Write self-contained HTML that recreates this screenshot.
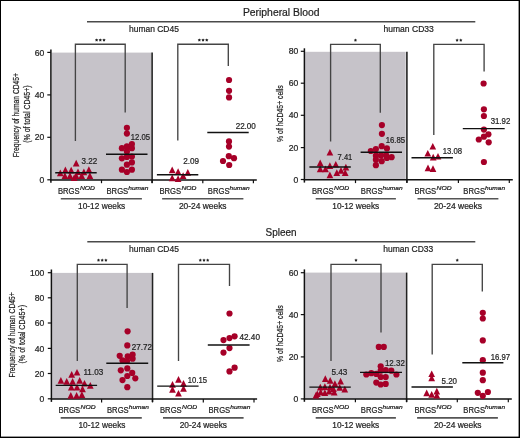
<!DOCTYPE html>
<html><head><meta charset="utf-8"><style>
html,body{margin:0;padding:0;background:#fff;}
body{width:520px;height:438px;overflow:hidden;}
svg{display:block;font-family:"Liberation Sans", sans-serif;will-change:transform;} text{stroke:#222;stroke-width:0.22px;paint-order:stroke;}
</style></head><body>
<svg width="520" height="438" viewBox="0 0 520 438">
<rect x="0" y="0" width="520" height="438" fill="#fff"/>
<line x1="87.0" y1="21.7" x2="475.3" y2="21.7" stroke="#4a4a4a" stroke-width="1.5"/>
<text x="242.9" y="15.8" font-size="10.6" textLength="76.7" lengthAdjust="spacingAndGlyphs" fill="#1f1f1f">Peripheral Blood</text>
<text x="129.0" y="32.1" font-size="9.0" textLength="49.9" lengthAdjust="spacingAndGlyphs" fill="#1f1f1f">human CD45</text>
<text x="383.5" y="32.1" font-size="9.0" textLength="50.3" lengthAdjust="spacingAndGlyphs" fill="#1f1f1f">human CD33</text>
<line x1="87.3" y1="241.7" x2="475.3" y2="241.7" stroke="#4a4a4a" stroke-width="1.5"/>
<text x="265.5" y="236.2" font-size="10.6" textLength="31" lengthAdjust="spacingAndGlyphs" fill="#1f1f1f">Spleen</text>
<text x="129.0" y="252.4" font-size="9.0" textLength="49.9" lengthAdjust="spacingAndGlyphs" fill="#1f1f1f">human CD45</text>
<text x="383.3" y="252.4" font-size="9.0" textLength="50.0" lengthAdjust="spacingAndGlyphs" fill="#1f1f1f">human CD33</text>
<rect x="51.6" y="52.6" width="99.6" height="127.30000000000001" fill="#c6c3c9"/>
<line x1="152.1" y1="52.6" x2="152.1" y2="182.9" stroke="#222" stroke-width="1.6"/>
<line x1="50.9" y1="49.5" x2="50.9" y2="182.70000000000002" stroke="#111" stroke-width="1.5"/>
<line x1="47.3" y1="52.4" x2="50.9" y2="52.4" stroke="#111" stroke-width="1.2"/>
<text x="44.2" y="55.5" font-size="8.6" text-anchor="end" fill="#1f1f1f">60</text>
<line x1="47.3" y1="94.9" x2="50.9" y2="94.9" stroke="#111" stroke-width="1.2"/>
<text x="44.2" y="98.0" font-size="8.6" text-anchor="end" fill="#1f1f1f">40</text>
<line x1="47.3" y1="137.3" x2="50.9" y2="137.3" stroke="#111" stroke-width="1.2"/>
<text x="44.2" y="140.4" font-size="8.6" text-anchor="end" fill="#1f1f1f">20</text>
<line x1="47.3" y1="179.8" x2="50.9" y2="179.8" stroke="#111" stroke-width="1.2"/>
<text x="44.2" y="182.9" font-size="8.6" text-anchor="end" fill="#1f1f1f">0</text>
<line x1="50.199999999999996" y1="179.9" x2="256.8" y2="179.9" stroke="#111" stroke-width="1.5"/>
<line x1="101.5" y1="179.9" x2="101.5" y2="183.20000000000002" stroke="#111" stroke-width="1.2"/>
<line x1="152.1" y1="179.9" x2="152.1" y2="183.20000000000002" stroke="#111" stroke-width="1.2"/>
<line x1="202.8" y1="179.9" x2="202.8" y2="183.20000000000002" stroke="#111" stroke-width="1.2"/>
<line x1="253.4" y1="179.9" x2="253.4" y2="183.20000000000002" stroke="#111" stroke-width="1.2"/>
<path d="M75.4 141.0 L75.4 44.2 L125.2 44.2 L125.2 112.5" fill="none" stroke="#444" stroke-width="1.35"/>
<polygon points="96.60,38.40 97.16,39.33 98.22,39.57 97.50,40.39 97.60,41.48 96.60,41.05 95.60,41.48 95.70,40.39 94.98,39.57 96.04,39.33" fill="#222"/>
<polygon points="100.30,38.40 100.86,39.33 101.92,39.57 101.20,40.39 101.30,41.48 100.30,41.05 99.30,41.48 99.40,40.39 98.68,39.57 99.74,39.33" fill="#222"/>
<polygon points="104.00,38.40 104.56,39.33 105.62,39.57 104.90,40.39 105.00,41.48 104.00,41.05 103.00,41.48 103.10,40.39 102.38,39.57 103.44,39.33" fill="#222"/>
<path d="M177.8 140.6 L177.8 44.2 L228.3 44.2 L228.3 65.9" fill="none" stroke="#444" stroke-width="1.35"/>
<polygon points="199.35,38.40 199.91,39.33 200.97,39.57 200.25,40.39 200.35,41.48 199.35,41.05 198.35,41.48 198.45,40.39 197.73,39.57 198.79,39.33" fill="#222"/>
<polygon points="203.05,38.40 203.61,39.33 204.67,39.57 203.95,40.39 204.05,41.48 203.05,41.05 202.05,41.48 202.15,40.39 201.43,39.57 202.49,39.33" fill="#222"/>
<polygon points="206.75,38.40 207.31,39.33 208.37,39.57 207.65,40.39 207.75,41.48 206.75,41.05 205.75,41.48 205.85,40.39 205.13,39.57 206.19,39.33" fill="#222"/>
<path d="M76.20 159.72 L79.55 166.38 L72.85 166.38 Z" fill="#a60028"/>
<path d="M65.40 166.52 L68.75 173.18 L62.05 173.18 Z" fill="#a60028"/>
<path d="M71.20 166.72 L74.55 173.38 L67.85 173.38 Z" fill="#a60028"/>
<path d="M60.30 169.52 L63.65 176.18 L56.95 176.18 Z" fill="#a60028"/>
<path d="M78.00 168.42 L81.35 175.08 L74.65 175.08 Z" fill="#a60028"/>
<path d="M83.90 168.52 L87.25 175.18 L80.55 175.18 Z" fill="#a60028"/>
<path d="M88.90 166.22 L92.25 172.88 L85.55 172.88 Z" fill="#a60028"/>
<path d="M64.90 172.22 L68.25 178.88 L61.55 178.88 Z" fill="#a60028"/>
<path d="M70.00 172.22 L73.35 178.88 L66.65 178.88 Z" fill="#a60028"/>
<path d="M76.20 172.42 L79.55 179.08 L72.85 179.08 Z" fill="#a60028"/>
<path d="M81.70 172.22 L85.05 178.88 L78.35 178.88 Z" fill="#a60028"/>
<path d="M89.90 172.22 L93.25 178.88 L86.55 178.88 Z" fill="#a60028"/>
<path d="M74.20 174.32 L77.55 180.98 L70.85 180.98 Z" fill="#a60028"/>
<circle cx="126.9" cy="127.8" r="3.1" fill="#a60028"/>
<circle cx="126.9" cy="133.6" r="3.1" fill="#a60028"/>
<circle cx="131.9" cy="144.1" r="3.1" fill="#a60028"/>
<circle cx="126.9" cy="146.4" r="3.1" fill="#a60028"/>
<circle cx="121.9" cy="148.2" r="3.1" fill="#a60028"/>
<circle cx="131.9" cy="148.2" r="3.1" fill="#a60028"/>
<circle cx="126.9" cy="151.4" r="3.1" fill="#a60028"/>
<circle cx="121.9" cy="158.3" r="3.1" fill="#a60028"/>
<circle cx="126.9" cy="156.9" r="3.1" fill="#a60028"/>
<circle cx="131.9" cy="156.5" r="3.1" fill="#a60028"/>
<circle cx="131.9" cy="162.4" r="3.1" fill="#a60028"/>
<circle cx="126.9" cy="164.7" r="3.1" fill="#a60028"/>
<circle cx="121.9" cy="169.7" r="3.1" fill="#a60028"/>
<circle cx="126.9" cy="172" r="3.1" fill="#a60028"/>
<circle cx="131.9" cy="169.7" r="3.1" fill="#a60028"/>
<path d="M172.20 166.52 L175.55 173.18 L168.85 173.18 Z" fill="#a60028"/>
<path d="M178.10 168.32 L181.45 174.98 L174.75 174.98 Z" fill="#a60028"/>
<path d="M183.10 172.22 L186.45 178.88 L179.75 178.88 Z" fill="#a60028"/>
<path d="M187.80 169.12 L191.15 175.78 L184.45 175.78 Z" fill="#a60028"/>
<path d="M172.20 174.52 L175.55 181.18 L168.85 181.18 Z" fill="#a60028"/>
<path d="M178.10 175.32 L181.45 181.98 L174.75 181.98 Z" fill="#a60028"/>
<circle cx="229.05" cy="80.0" r="3.1" fill="#a60028"/>
<circle cx="229.05" cy="90.8" r="3.1" fill="#a60028"/>
<circle cx="229.05" cy="97.4" r="3.1" fill="#a60028"/>
<circle cx="229" cy="141.4" r="3.1" fill="#a60028"/>
<circle cx="229" cy="146.6" r="3.1" fill="#a60028"/>
<circle cx="228.8" cy="156.2" r="3.1" fill="#a60028"/>
<circle cx="234" cy="158.2" r="3.1" fill="#a60028"/>
<circle cx="223" cy="161" r="3.1" fill="#a60028"/>
<circle cx="229.2" cy="165" r="3.1" fill="#a60028"/>
<line x1="55.2" y1="172.8" x2="96.7" y2="172.8" stroke="#111" stroke-width="1.4"/>
<text x="81.55" y="163.8" font-size="8.3" textLength="15.7" lengthAdjust="spacingAndGlyphs" fill="#1f1f1f">3.22</text>
<line x1="106" y1="154.3" x2="147.5" y2="154.3" stroke="#111" stroke-width="1.4"/>
<text x="130.85" y="139.9" font-size="8.3" textLength="19.2" lengthAdjust="spacingAndGlyphs" fill="#1f1f1f">12.05</text>
<line x1="156.9" y1="174.7" x2="198.3" y2="174.7" stroke="#111" stroke-width="1.4"/>
<text x="183.15" y="163.8" font-size="8.3" textLength="15.9" lengthAdjust="spacingAndGlyphs" fill="#1f1f1f">2.09</text>
<line x1="207.3" y1="132.5" x2="248.7" y2="132.5" stroke="#111" stroke-width="1.4"/>
<text x="235.65" y="129.4" font-size="8.3" textLength="20.2" lengthAdjust="spacingAndGlyphs" fill="#1f1f1f">22.00</text>
<text x="57.9" y="193.5" font-size="8.8" textLength="21.7" lengthAdjust="spacingAndGlyphs" fill="#1f1f1f">BRGS</text>
<text x="80.0" y="189.6" font-size="5.6" textLength="15" lengthAdjust="spacingAndGlyphs" font-style="italic" fill="#1f1f1f">NOD</text>
<text x="106.5" y="193.5" font-size="8.8" textLength="21.7" lengthAdjust="spacingAndGlyphs" fill="#1f1f1f">BRGS</text>
<text x="128.3" y="189.6" font-size="5.6" textLength="20" lengthAdjust="spacingAndGlyphs" font-style="italic" fill="#1f1f1f">human</text>
<text x="159.4" y="193.5" font-size="8.8" textLength="21.7" lengthAdjust="spacingAndGlyphs" fill="#1f1f1f">BRGS</text>
<text x="181.5" y="189.6" font-size="5.6" textLength="15" lengthAdjust="spacingAndGlyphs" font-style="italic" fill="#1f1f1f">NOD</text>
<text x="207.8" y="193.5" font-size="8.8" textLength="21.7" lengthAdjust="spacingAndGlyphs" fill="#1f1f1f">BRGS</text>
<text x="229.60000000000002" y="189.6" font-size="5.6" textLength="20" lengthAdjust="spacingAndGlyphs" font-style="italic" fill="#1f1f1f">human</text>
<line x1="60.8" y1="198.8" x2="141.9" y2="198.8" stroke="#555" stroke-width="1.6"/>
<text x="78.1" y="209.20000000000002" font-size="8.8" textLength="47.1" lengthAdjust="spacingAndGlyphs" fill="#1f1f1f">10-12 weeks</text>
<line x1="162.1" y1="198.8" x2="243.4" y2="198.8" stroke="#555" stroke-width="1.6"/>
<text x="178.9" y="209.20000000000002" font-size="8.8" textLength="47.7" lengthAdjust="spacingAndGlyphs" fill="#1f1f1f">20-24 weeks</text>
<text transform="translate(19.3,157.3) rotate(-90)" font-size="9.4" textLength="84.2" lengthAdjust="spacingAndGlyphs" fill="#1f1f1f">Frequency of human CD45+</text>
<text transform="translate(29.6,142.8) rotate(-90)" font-size="9.4" textLength="57.4" lengthAdjust="spacingAndGlyphs" fill="#1f1f1f">(% of total CD45+)</text>
<rect x="305.1" y="51.8" width="100.59999999999997" height="128.0" fill="#c6c3c9"/>
<line x1="406.9" y1="51.8" x2="406.9" y2="182.8" stroke="#222" stroke-width="1.6"/>
<line x1="304.4" y1="48.3" x2="304.4" y2="182.60000000000002" stroke="#111" stroke-width="1.5"/>
<line x1="300.79999999999995" y1="51.3" x2="304.4" y2="51.3" stroke="#111" stroke-width="1.2"/>
<text x="298.2" y="54.4" font-size="8.6" text-anchor="end" fill="#1f1f1f">80</text>
<line x1="300.79999999999995" y1="83.2" x2="304.4" y2="83.2" stroke="#111" stroke-width="1.2"/>
<text x="298.2" y="86.3" font-size="8.6" text-anchor="end" fill="#1f1f1f">60</text>
<line x1="300.79999999999995" y1="115.3" x2="304.4" y2="115.3" stroke="#111" stroke-width="1.2"/>
<text x="298.2" y="118.39999999999999" font-size="8.6" text-anchor="end" fill="#1f1f1f">40</text>
<line x1="300.79999999999995" y1="147.6" x2="304.4" y2="147.6" stroke="#111" stroke-width="1.2"/>
<text x="298.2" y="150.7" font-size="8.6" text-anchor="end" fill="#1f1f1f">20</text>
<line x1="300.79999999999995" y1="179.5" x2="304.4" y2="179.5" stroke="#111" stroke-width="1.2"/>
<text x="298.2" y="182.6" font-size="8.6" text-anchor="end" fill="#1f1f1f">0</text>
<line x1="303.7" y1="179.8" x2="512.8" y2="179.8" stroke="#111" stroke-width="1.5"/>
<line x1="355.5" y1="179.8" x2="355.5" y2="183.10000000000002" stroke="#111" stroke-width="1.2"/>
<line x1="406.9" y1="179.8" x2="406.9" y2="183.10000000000002" stroke="#111" stroke-width="1.2"/>
<line x1="458.4" y1="179.8" x2="458.4" y2="183.10000000000002" stroke="#111" stroke-width="1.2"/>
<line x1="509.3" y1="179.8" x2="509.3" y2="183.10000000000002" stroke="#111" stroke-width="1.2"/>
<path d="M330.6 141.4 L330.6 44.3 L380.3 44.3 L380.3 112.8" fill="none" stroke="#444" stroke-width="1.35"/>
<polygon points="355.45,38.50 356.01,39.43 357.07,39.67 356.35,40.49 356.45,41.58 355.45,41.15 354.45,41.58 354.55,40.49 353.83,39.67 354.89,39.43" fill="#222"/>
<path d="M433.8 135.1 L433.8 44.3 L484.1 44.3 L484.1 71.4" fill="none" stroke="#444" stroke-width="1.35"/>
<polygon points="457.10,38.50 457.66,39.43 458.72,39.67 458.00,40.49 458.10,41.58 457.10,41.15 456.10,41.58 456.20,40.49 455.48,39.67 456.54,39.43" fill="#222"/>
<polygon points="460.80,38.50 461.36,39.43 462.42,39.67 461.70,40.49 461.80,41.58 460.80,41.15 459.80,41.58 459.90,40.49 459.18,39.67 460.24,39.43" fill="#222"/>
<path d="M329.90 148.92 L333.25 155.58 L326.55 155.58 Z" fill="#a60028"/>
<path d="M320.20 159.52 L323.55 166.18 L316.85 166.18 Z" fill="#a60028"/>
<path d="M329.90 162.32 L333.25 168.98 L326.55 168.98 Z" fill="#a60028"/>
<path d="M335.80 160.92 L339.15 167.58 L332.45 167.58 Z" fill="#a60028"/>
<path d="M345.90 163.72 L349.25 170.38 L342.55 170.38 Z" fill="#a60028"/>
<path d="M320.20 165.52 L323.55 172.18 L316.85 172.18 Z" fill="#a60028"/>
<path d="M325.50 165.52 L328.85 172.18 L322.15 172.18 Z" fill="#a60028"/>
<path d="M341.00 167.02 L344.35 173.68 L337.65 173.68 Z" fill="#a60028"/>
<path d="M329.90 171.62 L333.25 178.28 L326.55 178.28 Z" fill="#a60028"/>
<path d="M336.80 169.32 L340.15 175.98 L333.45 175.98 Z" fill="#a60028"/>
<path d="M345.20 169.32 L348.55 175.98 L341.85 175.98 Z" fill="#a60028"/>
<circle cx="381.9" cy="125.1" r="3.1" fill="#a60028"/>
<circle cx="381.9" cy="133.8" r="3.1" fill="#a60028"/>
<circle cx="381.7" cy="146.2" r="3.1" fill="#a60028"/>
<circle cx="386.9" cy="148.4" r="3.1" fill="#a60028"/>
<circle cx="375.9" cy="149.1" r="3.1" fill="#a60028"/>
<circle cx="370.8" cy="151" r="3.1" fill="#a60028"/>
<circle cx="375.9" cy="155.7" r="3.1" fill="#a60028"/>
<circle cx="381" cy="155.4" r="3.1" fill="#a60028"/>
<circle cx="386.1" cy="155" r="3.1" fill="#a60028"/>
<circle cx="386.9" cy="157.9" r="3.1" fill="#a60028"/>
<circle cx="391.6" cy="157.2" r="3.1" fill="#a60028"/>
<circle cx="375.9" cy="159.7" r="3.1" fill="#a60028"/>
<circle cx="381.7" cy="161.2" r="3.1" fill="#a60028"/>
<circle cx="375.9" cy="165.2" r="3.1" fill="#a60028"/>
<path d="M432.80 142.92 L436.15 149.58 L429.45 149.58 Z" fill="#a60028"/>
<path d="M427.80 149.92 L431.15 156.58 L424.45 156.58 Z" fill="#a60028"/>
<path d="M433.20 153.72 L436.55 160.38 L429.85 160.38 Z" fill="#a60028"/>
<path d="M438.00 152.92 L441.35 159.58 L434.65 159.58 Z" fill="#a60028"/>
<path d="M428.00 164.52 L431.35 171.18 L424.65 171.18 Z" fill="#a60028"/>
<path d="M433.00 165.32 L436.35 171.98 L429.65 171.98 Z" fill="#a60028"/>
<circle cx="483.6" cy="83.5" r="3.1" fill="#a60028"/>
<circle cx="483.9" cy="109.3" r="3.1" fill="#a60028"/>
<circle cx="483.9" cy="116" r="3.1" fill="#a60028"/>
<circle cx="483.9" cy="129.6" r="3.1" fill="#a60028"/>
<circle cx="488.4" cy="134.3" r="3.1" fill="#a60028"/>
<circle cx="483.9" cy="136.7" r="3.1" fill="#a60028"/>
<circle cx="478.8" cy="139.5" r="3.1" fill="#a60028"/>
<circle cx="488.7" cy="142.3" r="3.1" fill="#a60028"/>
<circle cx="483.9" cy="162" r="3.1" fill="#a60028"/>
<line x1="309.4" y1="167.0" x2="350.8" y2="167.0" stroke="#111" stroke-width="1.4"/>
<text x="337.55" y="159.9" font-size="8.3" textLength="14.8" lengthAdjust="spacingAndGlyphs" fill="#1f1f1f">7.41</text>
<line x1="360.6" y1="152.2" x2="402" y2="152.2" stroke="#111" stroke-width="1.4"/>
<text x="385.65" y="142.8" font-size="8.3" textLength="19.4" lengthAdjust="spacingAndGlyphs" fill="#1f1f1f">16.85</text>
<line x1="411.5" y1="157.8" x2="452.9" y2="157.8" stroke="#111" stroke-width="1.4"/>
<text x="442.65" y="153.7" font-size="8.3" textLength="19.4" lengthAdjust="spacingAndGlyphs" fill="#1f1f1f">13.08</text>
<line x1="462.8" y1="128.6" x2="504.7" y2="128.6" stroke="#111" stroke-width="1.4"/>
<text x="490.65" y="123.7" font-size="8.3" textLength="19.6" lengthAdjust="spacingAndGlyphs" fill="#1f1f1f">31.92</text>
<text x="312" y="193.5" font-size="8.8" textLength="21.7" lengthAdjust="spacingAndGlyphs" fill="#1f1f1f">BRGS</text>
<text x="334.1" y="189.6" font-size="5.6" textLength="15" lengthAdjust="spacingAndGlyphs" font-style="italic" fill="#1f1f1f">NOD</text>
<text x="360.8" y="193.5" font-size="8.8" textLength="21.7" lengthAdjust="spacingAndGlyphs" fill="#1f1f1f">BRGS</text>
<text x="382.6" y="189.6" font-size="5.6" textLength="20" lengthAdjust="spacingAndGlyphs" font-style="italic" fill="#1f1f1f">human</text>
<text x="414.5" y="193.5" font-size="8.8" textLength="21.7" lengthAdjust="spacingAndGlyphs" fill="#1f1f1f">BRGS</text>
<text x="436.6" y="189.6" font-size="5.6" textLength="15" lengthAdjust="spacingAndGlyphs" font-style="italic" fill="#1f1f1f">NOD</text>
<text x="463.3" y="193.5" font-size="8.8" textLength="21.7" lengthAdjust="spacingAndGlyphs" fill="#1f1f1f">BRGS</text>
<text x="485.1" y="189.6" font-size="5.6" textLength="20" lengthAdjust="spacingAndGlyphs" font-style="italic" fill="#1f1f1f">human</text>
<line x1="315.7" y1="198.7" x2="395.9" y2="198.7" stroke="#555" stroke-width="1.6"/>
<text x="332.3" y="209.1" font-size="8.8" textLength="46.9" lengthAdjust="spacingAndGlyphs" fill="#1f1f1f">10-12 weeks</text>
<line x1="417.5" y1="198.7" x2="498.4" y2="198.7" stroke="#555" stroke-width="1.6"/>
<text x="433.9" y="209.1" font-size="8.8" textLength="48.2" lengthAdjust="spacingAndGlyphs" fill="#1f1f1f">20-24 weeks</text>
<text transform="translate(283.2,141.9) rotate(-90)" font-size="8.7" textLength="56.7" lengthAdjust="spacingAndGlyphs" fill="#1f1f1f">% of hCD45+ cells</text>
<rect x="52.1" y="272.9" width="99.6" height="126.20000000000005" fill="#c6c3c9"/>
<line x1="152.5" y1="272.9" x2="152.5" y2="402.1" stroke="#222" stroke-width="1.6"/>
<line x1="51.4" y1="269.5" x2="51.4" y2="401.90000000000003" stroke="#111" stroke-width="1.5"/>
<line x1="47.8" y1="272.7" x2="51.4" y2="272.7" stroke="#111" stroke-width="1.2"/>
<text x="44.4" y="275.8" font-size="8.6" text-anchor="end" fill="#1f1f1f">100</text>
<line x1="47.8" y1="297.8" x2="51.4" y2="297.8" stroke="#111" stroke-width="1.2"/>
<text x="44.4" y="300.90000000000003" font-size="8.6" text-anchor="end" fill="#1f1f1f">80</text>
<line x1="47.8" y1="323" x2="51.4" y2="323" stroke="#111" stroke-width="1.2"/>
<text x="44.4" y="326.1" font-size="8.6" text-anchor="end" fill="#1f1f1f">60</text>
<line x1="47.8" y1="348.4" x2="51.4" y2="348.4" stroke="#111" stroke-width="1.2"/>
<text x="44.4" y="351.5" font-size="8.6" text-anchor="end" fill="#1f1f1f">40</text>
<line x1="47.8" y1="373.5" x2="51.4" y2="373.5" stroke="#111" stroke-width="1.2"/>
<text x="44.4" y="376.6" font-size="8.6" text-anchor="end" fill="#1f1f1f">20</text>
<line x1="47.8" y1="398.8" x2="51.4" y2="398.8" stroke="#111" stroke-width="1.2"/>
<text x="44.4" y="401.90000000000003" font-size="8.6" text-anchor="end" fill="#1f1f1f">0</text>
<line x1="50.699999999999996" y1="399.1" x2="257.1" y2="399.1" stroke="#111" stroke-width="1.5"/>
<line x1="101.6" y1="399.1" x2="101.6" y2="402.40000000000003" stroke="#111" stroke-width="1.2"/>
<line x1="152.5" y1="399.1" x2="152.5" y2="402.40000000000003" stroke="#111" stroke-width="1.2"/>
<line x1="203.3" y1="399.1" x2="203.3" y2="402.40000000000003" stroke="#111" stroke-width="1.2"/>
<line x1="254.0" y1="399.1" x2="254.0" y2="402.40000000000003" stroke="#111" stroke-width="1.2"/>
<path d="M77.3 360.9 L77.3 264.3 L127.1 264.3 L127.1 308.1" fill="none" stroke="#444" stroke-width="1.35"/>
<polygon points="98.50,258.50 99.06,259.43 100.12,259.67 99.40,260.49 99.50,261.58 98.50,261.15 97.50,261.58 97.60,260.49 96.88,259.67 97.94,259.43" fill="#222"/>
<polygon points="102.20,258.50 102.76,259.43 103.82,259.67 103.10,260.49 103.20,261.58 102.20,261.15 101.20,261.58 101.30,260.49 100.58,259.67 101.64,259.43" fill="#222"/>
<polygon points="105.90,258.50 106.46,259.43 107.52,259.67 106.80,260.49 106.90,261.58 105.90,261.15 104.90,261.58 105.00,260.49 104.28,259.67 105.34,259.43" fill="#222"/>
<path d="M178.5 360.9 L178.5 264.3 L229.5 264.3 L229.5 285.9" fill="none" stroke="#444" stroke-width="1.35"/>
<polygon points="200.30,258.50 200.86,259.43 201.92,259.67 201.20,260.49 201.30,261.58 200.30,261.15 199.30,261.58 199.40,260.49 198.68,259.67 199.74,259.43" fill="#222"/>
<polygon points="204.00,258.50 204.56,259.43 205.62,259.67 204.90,260.49 205.00,261.58 204.00,261.15 203.00,261.58 203.10,260.49 202.38,259.67 203.44,259.43" fill="#222"/>
<polygon points="207.70,258.50 208.26,259.43 209.32,259.67 208.60,260.49 208.70,261.58 207.70,261.15 206.70,261.58 206.80,260.49 206.08,259.67 207.14,259.43" fill="#222"/>
<path d="M77.00 368.92 L80.35 375.58 L73.65 375.58 Z" fill="#a60028"/>
<path d="M71.70 371.12 L75.05 377.78 L68.35 377.78 Z" fill="#a60028"/>
<path d="M60.90 377.12 L64.25 383.78 L57.55 383.78 Z" fill="#a60028"/>
<path d="M66.70 378.02 L70.05 384.68 L63.35 384.68 Z" fill="#a60028"/>
<path d="M72.60 378.02 L75.95 384.68 L69.25 384.68 Z" fill="#a60028"/>
<path d="M79.70 377.12 L83.05 383.78 L76.35 383.78 Z" fill="#a60028"/>
<path d="M84.50 379.92 L87.85 386.58 L81.15 386.58 Z" fill="#a60028"/>
<path d="M90.30 382.02 L93.65 388.68 L86.95 388.68 Z" fill="#a60028"/>
<path d="M71.30 383.72 L74.65 390.38 L67.95 390.38 Z" fill="#a60028"/>
<path d="M77.00 383.72 L80.35 390.38 L73.65 390.38 Z" fill="#a60028"/>
<path d="M82.50 385.52 L85.85 392.18 L79.15 392.18 Z" fill="#a60028"/>
<path d="M70.80 392.12 L74.15 398.78 L67.45 398.78 Z" fill="#a60028"/>
<path d="M76.60 392.12 L79.95 398.78 L73.25 398.78 Z" fill="#a60028"/>
<path d="M81.90 391.22 L85.25 397.88 L78.55 397.88 Z" fill="#a60028"/>
<circle cx="127.6" cy="331.3" r="3.1" fill="#a60028"/>
<circle cx="127.3" cy="345.4" r="3.1" fill="#a60028"/>
<circle cx="119.7" cy="355.8" r="3.1" fill="#a60028"/>
<circle cx="127.7" cy="356.4" r="3.1" fill="#a60028"/>
<circle cx="132.6" cy="354.7" r="3.1" fill="#a60028"/>
<circle cx="132.6" cy="358.7" r="3.1" fill="#a60028"/>
<circle cx="122.5" cy="360.4" r="3.1" fill="#a60028"/>
<circle cx="127.1" cy="361" r="3.1" fill="#a60028"/>
<circle cx="120.8" cy="370.3" r="3.1" fill="#a60028"/>
<circle cx="127.3" cy="368.4" r="3.1" fill="#a60028"/>
<circle cx="132.2" cy="372.9" r="3.1" fill="#a60028"/>
<circle cx="127.3" cy="376" r="3.1" fill="#a60028"/>
<circle cx="135.3" cy="378.3" r="3.1" fill="#a60028"/>
<circle cx="122.5" cy="380.1" r="3.1" fill="#a60028"/>
<circle cx="127.3" cy="387.2" r="3.1" fill="#a60028"/>
<path d="M178.50 376.12 L181.85 382.78 L175.15 382.78 Z" fill="#a60028"/>
<path d="M172.50 381.02 L175.85 387.68 L169.15 387.68 Z" fill="#a60028"/>
<path d="M183.50 380.02 L186.85 386.68 L180.15 386.68 Z" fill="#a60028"/>
<path d="M172.50 386.12 L175.85 392.78 L169.15 392.78 Z" fill="#a60028"/>
<path d="M183.50 385.12 L186.85 391.78 L180.15 391.78 Z" fill="#a60028"/>
<path d="M178.50 389.92 L181.85 396.58 L175.15 396.58 Z" fill="#a60028"/>
<circle cx="229.5" cy="313.5" r="3.1" fill="#a60028"/>
<circle cx="234.6" cy="336.3" r="3.1" fill="#a60028"/>
<circle cx="229.5" cy="338.1" r="3.1" fill="#a60028"/>
<circle cx="223.5" cy="340.1" r="3.1" fill="#a60028"/>
<circle cx="229.5" cy="348.1" r="3.1" fill="#a60028"/>
<circle cx="223.5" cy="352.6" r="3.1" fill="#a60028"/>
<circle cx="234.6" cy="367.7" r="3.1" fill="#a60028"/>
<circle cx="229.5" cy="371.4" r="3.1" fill="#a60028"/>
<line x1="55.7" y1="385.4" x2="97.1" y2="385.4" stroke="#111" stroke-width="1.4"/>
<text x="83.45" y="374.8" font-size="8.3" textLength="19.8" lengthAdjust="spacingAndGlyphs" fill="#1f1f1f">11.03</text>
<line x1="106.3" y1="363.3" x2="148.2" y2="363.3" stroke="#111" stroke-width="1.4"/>
<text x="131.75" y="350" font-size="8.3" textLength="20.1" lengthAdjust="spacingAndGlyphs" fill="#1f1f1f">27.72</text>
<line x1="157.2" y1="386.1" x2="198.6" y2="386.1" stroke="#111" stroke-width="1.4"/>
<text x="187.85" y="382.7" font-size="8.3" textLength="19.2" lengthAdjust="spacingAndGlyphs" fill="#1f1f1f">10.15</text>
<line x1="207.8" y1="345.0" x2="249.6" y2="345.0" stroke="#111" stroke-width="1.4"/>
<text x="239.45" y="340" font-size="8.3" textLength="20.5" lengthAdjust="spacingAndGlyphs" fill="#1f1f1f">42.40</text>
<text x="58.5" y="412.9" font-size="8.8" textLength="21.7" lengthAdjust="spacingAndGlyphs" fill="#1f1f1f">BRGS</text>
<text x="80.6" y="409.0" font-size="5.6" textLength="15" lengthAdjust="spacingAndGlyphs" font-style="italic" fill="#1f1f1f">NOD</text>
<text x="107" y="412.9" font-size="8.8" textLength="21.7" lengthAdjust="spacingAndGlyphs" fill="#1f1f1f">BRGS</text>
<text x="128.8" y="409.0" font-size="5.6" textLength="20" lengthAdjust="spacingAndGlyphs" font-style="italic" fill="#1f1f1f">human</text>
<text x="160" y="412.9" font-size="8.8" textLength="21.7" lengthAdjust="spacingAndGlyphs" fill="#1f1f1f">BRGS</text>
<text x="182.1" y="409.0" font-size="5.6" textLength="15" lengthAdjust="spacingAndGlyphs" font-style="italic" fill="#1f1f1f">NOD</text>
<text x="208.5" y="412.9" font-size="8.8" textLength="21.7" lengthAdjust="spacingAndGlyphs" fill="#1f1f1f">BRGS</text>
<text x="230.3" y="409.0" font-size="5.6" textLength="20" lengthAdjust="spacingAndGlyphs" font-style="italic" fill="#1f1f1f">human</text>
<line x1="60.7" y1="417.9" x2="141.8" y2="417.9" stroke="#555" stroke-width="1.6"/>
<text x="78.4" y="428.29999999999995" font-size="8.8" textLength="47.1" lengthAdjust="spacingAndGlyphs" fill="#1f1f1f">10-12 weeks</text>
<line x1="163" y1="417.9" x2="243.6" y2="417.9" stroke="#555" stroke-width="1.6"/>
<text x="179.7" y="428.29999999999995" font-size="8.8" textLength="47.3" lengthAdjust="spacingAndGlyphs" fill="#1f1f1f">20-24 weeks</text>
<text transform="translate(15.0,377.6) rotate(-90)" font-size="9.4" textLength="85.4" lengthAdjust="spacingAndGlyphs" fill="#1f1f1f">Frequency of human CD45+</text>
<text transform="translate(25.2,363.5) rotate(-90)" font-size="9.4" textLength="58.5" lengthAdjust="spacingAndGlyphs" fill="#1f1f1f">(% of total CD45+)</text>
<rect x="305.1" y="272.6" width="100.59999999999997" height="126.39999999999998" fill="#c6c3c9"/>
<line x1="406.6" y1="272.6" x2="406.6" y2="402.0" stroke="#222" stroke-width="1.6"/>
<line x1="304.4" y1="269.4" x2="304.4" y2="401.8" stroke="#111" stroke-width="1.5"/>
<line x1="300.79999999999995" y1="272.7" x2="304.4" y2="272.7" stroke="#111" stroke-width="1.2"/>
<text x="298.2" y="275.8" font-size="8.6" text-anchor="end" fill="#1f1f1f">60</text>
<line x1="300.79999999999995" y1="314.6" x2="304.4" y2="314.6" stroke="#111" stroke-width="1.2"/>
<text x="298.2" y="317.70000000000005" font-size="8.6" text-anchor="end" fill="#1f1f1f">40</text>
<line x1="300.79999999999995" y1="356.9" x2="304.4" y2="356.9" stroke="#111" stroke-width="1.2"/>
<text x="298.2" y="360.0" font-size="8.6" text-anchor="end" fill="#1f1f1f">20</text>
<line x1="300.79999999999995" y1="398.9" x2="304.4" y2="398.9" stroke="#111" stroke-width="1.2"/>
<text x="298.2" y="402.0" font-size="8.6" text-anchor="end" fill="#1f1f1f">0</text>
<line x1="303.7" y1="399.0" x2="511.8" y2="399.0" stroke="#111" stroke-width="1.5"/>
<line x1="355.4" y1="399.0" x2="355.4" y2="402.3" stroke="#111" stroke-width="1.2"/>
<line x1="406.6" y1="399.0" x2="406.6" y2="402.3" stroke="#111" stroke-width="1.2"/>
<line x1="457.3" y1="399.0" x2="457.3" y2="402.3" stroke="#111" stroke-width="1.2"/>
<line x1="508.3" y1="399.0" x2="508.3" y2="402.3" stroke="#111" stroke-width="1.2"/>
<path d="M331 360.9 L331 264.3 L381 264.3 L381 332.5" fill="none" stroke="#444" stroke-width="1.35"/>
<polygon points="356.00,258.50 356.56,259.43 357.62,259.67 356.90,260.49 357.00,261.58 356.00,261.15 355.00,261.58 355.10,260.49 354.38,259.67 355.44,259.43" fill="#222"/>
<path d="M432.2 354.4 L432.2 264.3 L482.3 264.3 L482.3 291.4" fill="none" stroke="#444" stroke-width="1.35"/>
<polygon points="457.25,258.50 457.81,259.43 458.87,259.67 458.15,260.49 458.25,261.58 457.25,261.15 456.25,261.58 456.35,260.49 455.63,259.67 456.69,259.43" fill="#222"/>
<path d="M325.30 375.22 L328.65 381.88 L321.95 381.88 Z" fill="#a60028"/>
<path d="M330.20 377.12 L333.55 383.78 L326.85 383.78 Z" fill="#a60028"/>
<path d="M334.90 380.32 L338.25 386.98 L331.55 386.98 Z" fill="#a60028"/>
<path d="M340.60 377.72 L343.95 384.38 L337.25 384.38 Z" fill="#a60028"/>
<path d="M320.30 383.72 L323.65 390.38 L316.95 390.38 Z" fill="#a60028"/>
<path d="M324.90 383.22 L328.25 389.88 L321.55 389.88 Z" fill="#a60028"/>
<path d="M330.00 383.72 L333.35 390.38 L326.65 390.38 Z" fill="#a60028"/>
<path d="M333.40 385.42 L336.75 392.08 L330.05 392.08 Z" fill="#a60028"/>
<path d="M339.70 384.12 L343.05 390.78 L336.35 390.78 Z" fill="#a60028"/>
<path d="M344.80 385.72 L348.15 392.38 L341.45 392.38 Z" fill="#a60028"/>
<path d="M317.30 390.42 L320.65 397.08 L313.95 397.08 Z" fill="#a60028"/>
<path d="M320.70 388.72 L324.05 395.38 L317.35 395.38 Z" fill="#a60028"/>
<path d="M324.90 389.22 L328.25 395.88 L321.55 395.88 Z" fill="#a60028"/>
<path d="M329.20 387.92 L332.55 394.58 L325.85 394.58 Z" fill="#a60028"/>
<path d="M334.20 388.72 L337.55 395.38 L330.85 395.38 Z" fill="#a60028"/>
<path d="M316.00 391.72 L319.35 398.38 L312.65 398.38 Z" fill="#a60028"/>
<circle cx="378.8" cy="346.9" r="3.1" fill="#a60028"/>
<circle cx="383.8" cy="346.9" r="3.1" fill="#a60028"/>
<circle cx="380.7" cy="366.3" r="3.1" fill="#a60028"/>
<circle cx="366.3" cy="374.5" r="3.1" fill="#a60028"/>
<circle cx="371.3" cy="373.2" r="3.1" fill="#a60028"/>
<circle cx="376.3" cy="373.9" r="3.1" fill="#a60028"/>
<circle cx="380.7" cy="370.7" r="3.1" fill="#a60028"/>
<circle cx="385.7" cy="370.1" r="3.1" fill="#a60028"/>
<circle cx="391.3" cy="370.7" r="3.1" fill="#a60028"/>
<circle cx="396.4" cy="374.5" r="3.1" fill="#a60028"/>
<circle cx="380.7" cy="377" r="3.1" fill="#a60028"/>
<circle cx="385.7" cy="377" r="3.1" fill="#a60028"/>
<circle cx="376.3" cy="382.6" r="3.1" fill="#a60028"/>
<circle cx="380.7" cy="384.5" r="3.1" fill="#a60028"/>
<circle cx="385.7" cy="383.9" r="3.1" fill="#a60028"/>
<path d="M431.70 370.42 L435.05 377.08 L428.35 377.08 Z" fill="#a60028"/>
<path d="M431.70 374.52 L435.05 381.18 L428.35 381.18 Z" fill="#a60028"/>
<path d="M426.70 389.62 L430.05 396.28 L423.35 396.28 Z" fill="#a60028"/>
<path d="M431.70 391.02 L435.05 397.68 L428.35 397.68 Z" fill="#a60028"/>
<path d="M436.80 387.82 L440.15 394.48 L433.45 394.48 Z" fill="#a60028"/>
<path d="M436.80 391.92 L440.15 398.58 L433.45 398.58 Z" fill="#a60028"/>
<circle cx="482.8" cy="312.8" r="3.1" fill="#a60028"/>
<circle cx="482.8" cy="318.5" r="3.1" fill="#a60028"/>
<circle cx="482.8" cy="340.4" r="3.1" fill="#a60028"/>
<circle cx="482.8" cy="360.2" r="3.1" fill="#a60028"/>
<circle cx="482.8" cy="372.7" r="3.1" fill="#a60028"/>
<circle cx="482.8" cy="380.2" r="3.1" fill="#a60028"/>
<circle cx="477.8" cy="392.8" r="3.1" fill="#a60028"/>
<circle cx="487.9" cy="392" r="3.1" fill="#a60028"/>
<circle cx="482.8" cy="395.8" r="3.1" fill="#a60028"/>
<line x1="309.4" y1="387.1" x2="350.8" y2="387.1" stroke="#111" stroke-width="1.4"/>
<text x="331.45" y="374.8" font-size="8.3" textLength="15.9" lengthAdjust="spacingAndGlyphs" fill="#1f1f1f">5.43</text>
<line x1="360" y1="372.4" x2="402" y2="372.4" stroke="#111" stroke-width="1.4"/>
<text x="384.95" y="365.8" font-size="8.3" textLength="19.9" lengthAdjust="spacingAndGlyphs" fill="#1f1f1f">12.32</text>
<line x1="411.5" y1="387.0" x2="452.9" y2="387.0" stroke="#111" stroke-width="1.4"/>
<text x="441.55" y="383.7" font-size="8.3" textLength="15.5" lengthAdjust="spacingAndGlyphs" fill="#1f1f1f">5.20</text>
<line x1="462.3" y1="362.8" x2="503.4" y2="362.8" stroke="#111" stroke-width="1.4"/>
<text x="490.65" y="359.9" font-size="8.3" textLength="19.4" lengthAdjust="spacingAndGlyphs" fill="#1f1f1f">16.97</text>
<text x="312" y="412.9" font-size="8.8" textLength="21.7" lengthAdjust="spacingAndGlyphs" fill="#1f1f1f">BRGS</text>
<text x="334.1" y="409.0" font-size="5.6" textLength="15" lengthAdjust="spacingAndGlyphs" font-style="italic" fill="#1f1f1f">NOD</text>
<text x="360.8" y="412.9" font-size="8.8" textLength="21.7" lengthAdjust="spacingAndGlyphs" fill="#1f1f1f">BRGS</text>
<text x="382.6" y="409.0" font-size="5.6" textLength="20" lengthAdjust="spacingAndGlyphs" font-style="italic" fill="#1f1f1f">human</text>
<text x="414.5" y="412.9" font-size="8.8" textLength="21.7" lengthAdjust="spacingAndGlyphs" fill="#1f1f1f">BRGS</text>
<text x="436.6" y="409.0" font-size="5.6" textLength="15" lengthAdjust="spacingAndGlyphs" font-style="italic" fill="#1f1f1f">NOD</text>
<text x="463.3" y="412.9" font-size="8.8" textLength="21.7" lengthAdjust="spacingAndGlyphs" fill="#1f1f1f">BRGS</text>
<text x="485.1" y="409.0" font-size="5.6" textLength="20" lengthAdjust="spacingAndGlyphs" font-style="italic" fill="#1f1f1f">human</text>
<line x1="315.7" y1="417.9" x2="395.9" y2="417.9" stroke="#555" stroke-width="1.6"/>
<text x="332.3" y="428.29999999999995" font-size="8.8" textLength="46.9" lengthAdjust="spacingAndGlyphs" fill="#1f1f1f">10-12 weeks</text>
<line x1="417.1" y1="417.9" x2="497.9" y2="417.9" stroke="#555" stroke-width="1.6"/>
<text x="433.9" y="428.29999999999995" font-size="8.8" textLength="47.7" lengthAdjust="spacingAndGlyphs" fill="#1f1f1f">20-24 weeks</text>
<text transform="translate(283.2,361.9) rotate(-90)" font-size="8.7" textLength="56.7" lengthAdjust="spacingAndGlyphs" fill="#1f1f1f">% of hCD45+ cells</text>
<rect x="0" y="0" width="520" height="1" fill="#000"/>
<rect x="0" y="0" width="1" height="438" fill="#000"/>
<rect x="518.6" y="0" width="1.4" height="438" fill="#000"/>
<rect x="0" y="436.6" width="520" height="1.4" fill="#000"/>
</svg>
</body></html>
